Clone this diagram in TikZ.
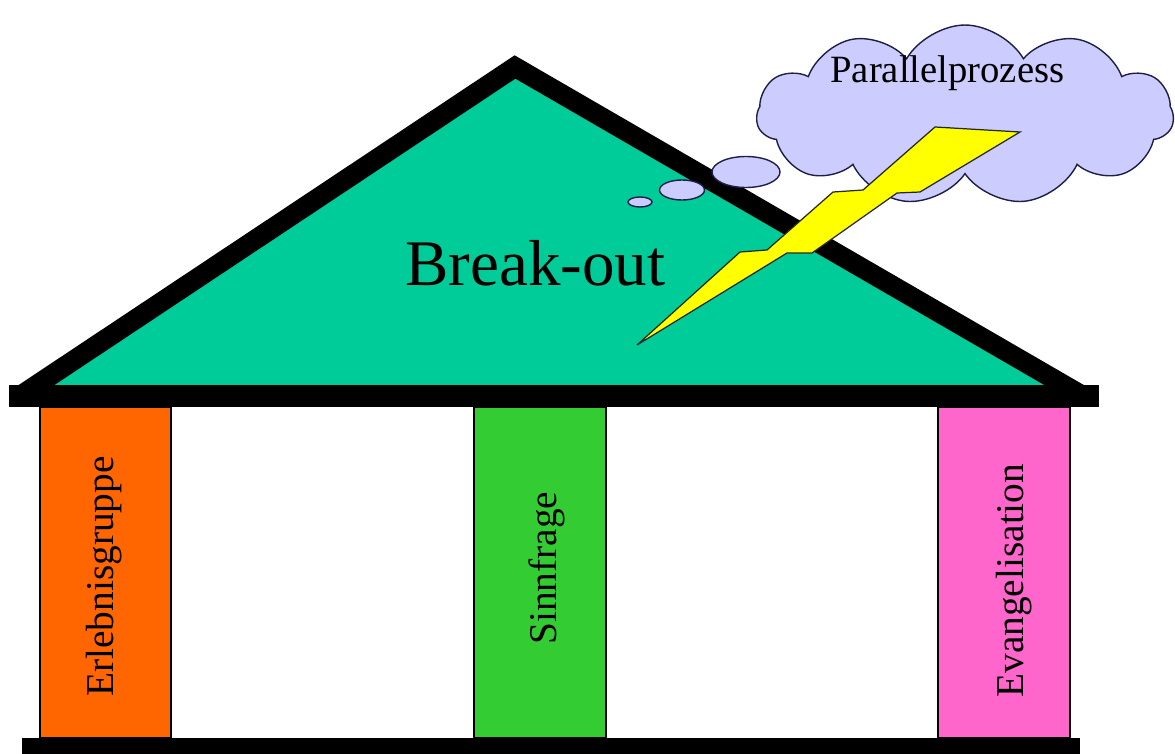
\documentclass[tikz,border=0pt]{standalone}
\usepackage{fontspec}
\setmainfont{Liberation Serif}
\usepackage{tikz}
\usetikzlibrary{shapes.symbols}
\definecolor{roofgreen}{RGB}{0,204,153}
\definecolor{pilorange}{RGB}{255,102,0}
\definecolor{pilgreen}{RGB}{51,204,51}
\definecolor{pilpink}{RGB}{255,102,204}
\definecolor{cloudblue}{RGB}{204,204,255}
\definecolor{cloudline}{RGB}{30,30,70}
\definecolor{boltyellow}{RGB}{255,255,0}

\begin{document}
\begin{tikzpicture}[x=0.02cm, y=-0.02cm,
    beam/.style={fill=black},
    pillar/.style={draw, line width=0.7pt},
    piltext/.style={rotate=90, anchor=base west, inner sep=0pt, font=\fontsize{22.4}{26}\selectfont},
    bubble/.style={draw=cloudline, fill=cloudblue, line width=0.8pt}
]
    \useasboundingbox (0,0) rectangle (1175,753);

    % Roof
    \fill[roofgreen] (20,396) -- (515,67) -- (1083,396) -- cycle;
    \draw[line width=11.3pt, line join=miter] (20,396) -- (515,67) -- (1083,396);
    \node[anchor=base west, inner sep=0pt, font=\fontsize{37}{40}\selectfont] (breakout) at (405,285) {Break-out};

    % Beams
    \fill[beam] (9,385) rectangle (1099,407);
    \fill[beam] (22,738) rectangle (1080,760);

    % Pillars
    \draw[pillar, fill=pilorange] (40,407) rectangle (171,738);
    \draw[pillar, fill=pilgreen] (474,407) rectangle (606,738);
    \draw[pillar, fill=pilpink] (938,407) rectangle (1070,738);
    \node[piltext] (erlebnis) at (113,697) {Erlebnisgruppe};
    \node[piltext] (sinn) at (556,645) {Sinnfrage};
    \node[piltext] (evang) at (1023,698) {Evangelisation};

    % Thought cloud
    \node[cloud, cloud puffs=11, cloud puff arc=120, cloud ignores aspect, bubble,
          minimum width=8.34cm, minimum height=3.6cm] (cloud) at (965,115) {};
    \node[anchor=base west, inner sep=0pt, font=\fontsize{22}{26}\selectfont] (parallel) at (830,83) {Parallelprozess};
    \draw[bubble] (746,172) ellipse [x radius=34, y radius=15.5];
    \draw[bubble] (682,190) ellipse [x radius=22.5, y radius=10];
    \draw[bubble] (640,202) ellipse [x radius=12, y radius=5];

    % Lightning bolt
    \draw[fill=boltyellow, draw=black!85, line width=0.7pt, line join=miter]
        (637,345) -- (740,252) -- (767,250) -- (833,192) -- (863,190) -- (935,127)
        -- (1020,132) -- (920,192) -- (897,193) -- (812,253) -- (787,253) -- cycle;
\end{tikzpicture}
\end{document}
